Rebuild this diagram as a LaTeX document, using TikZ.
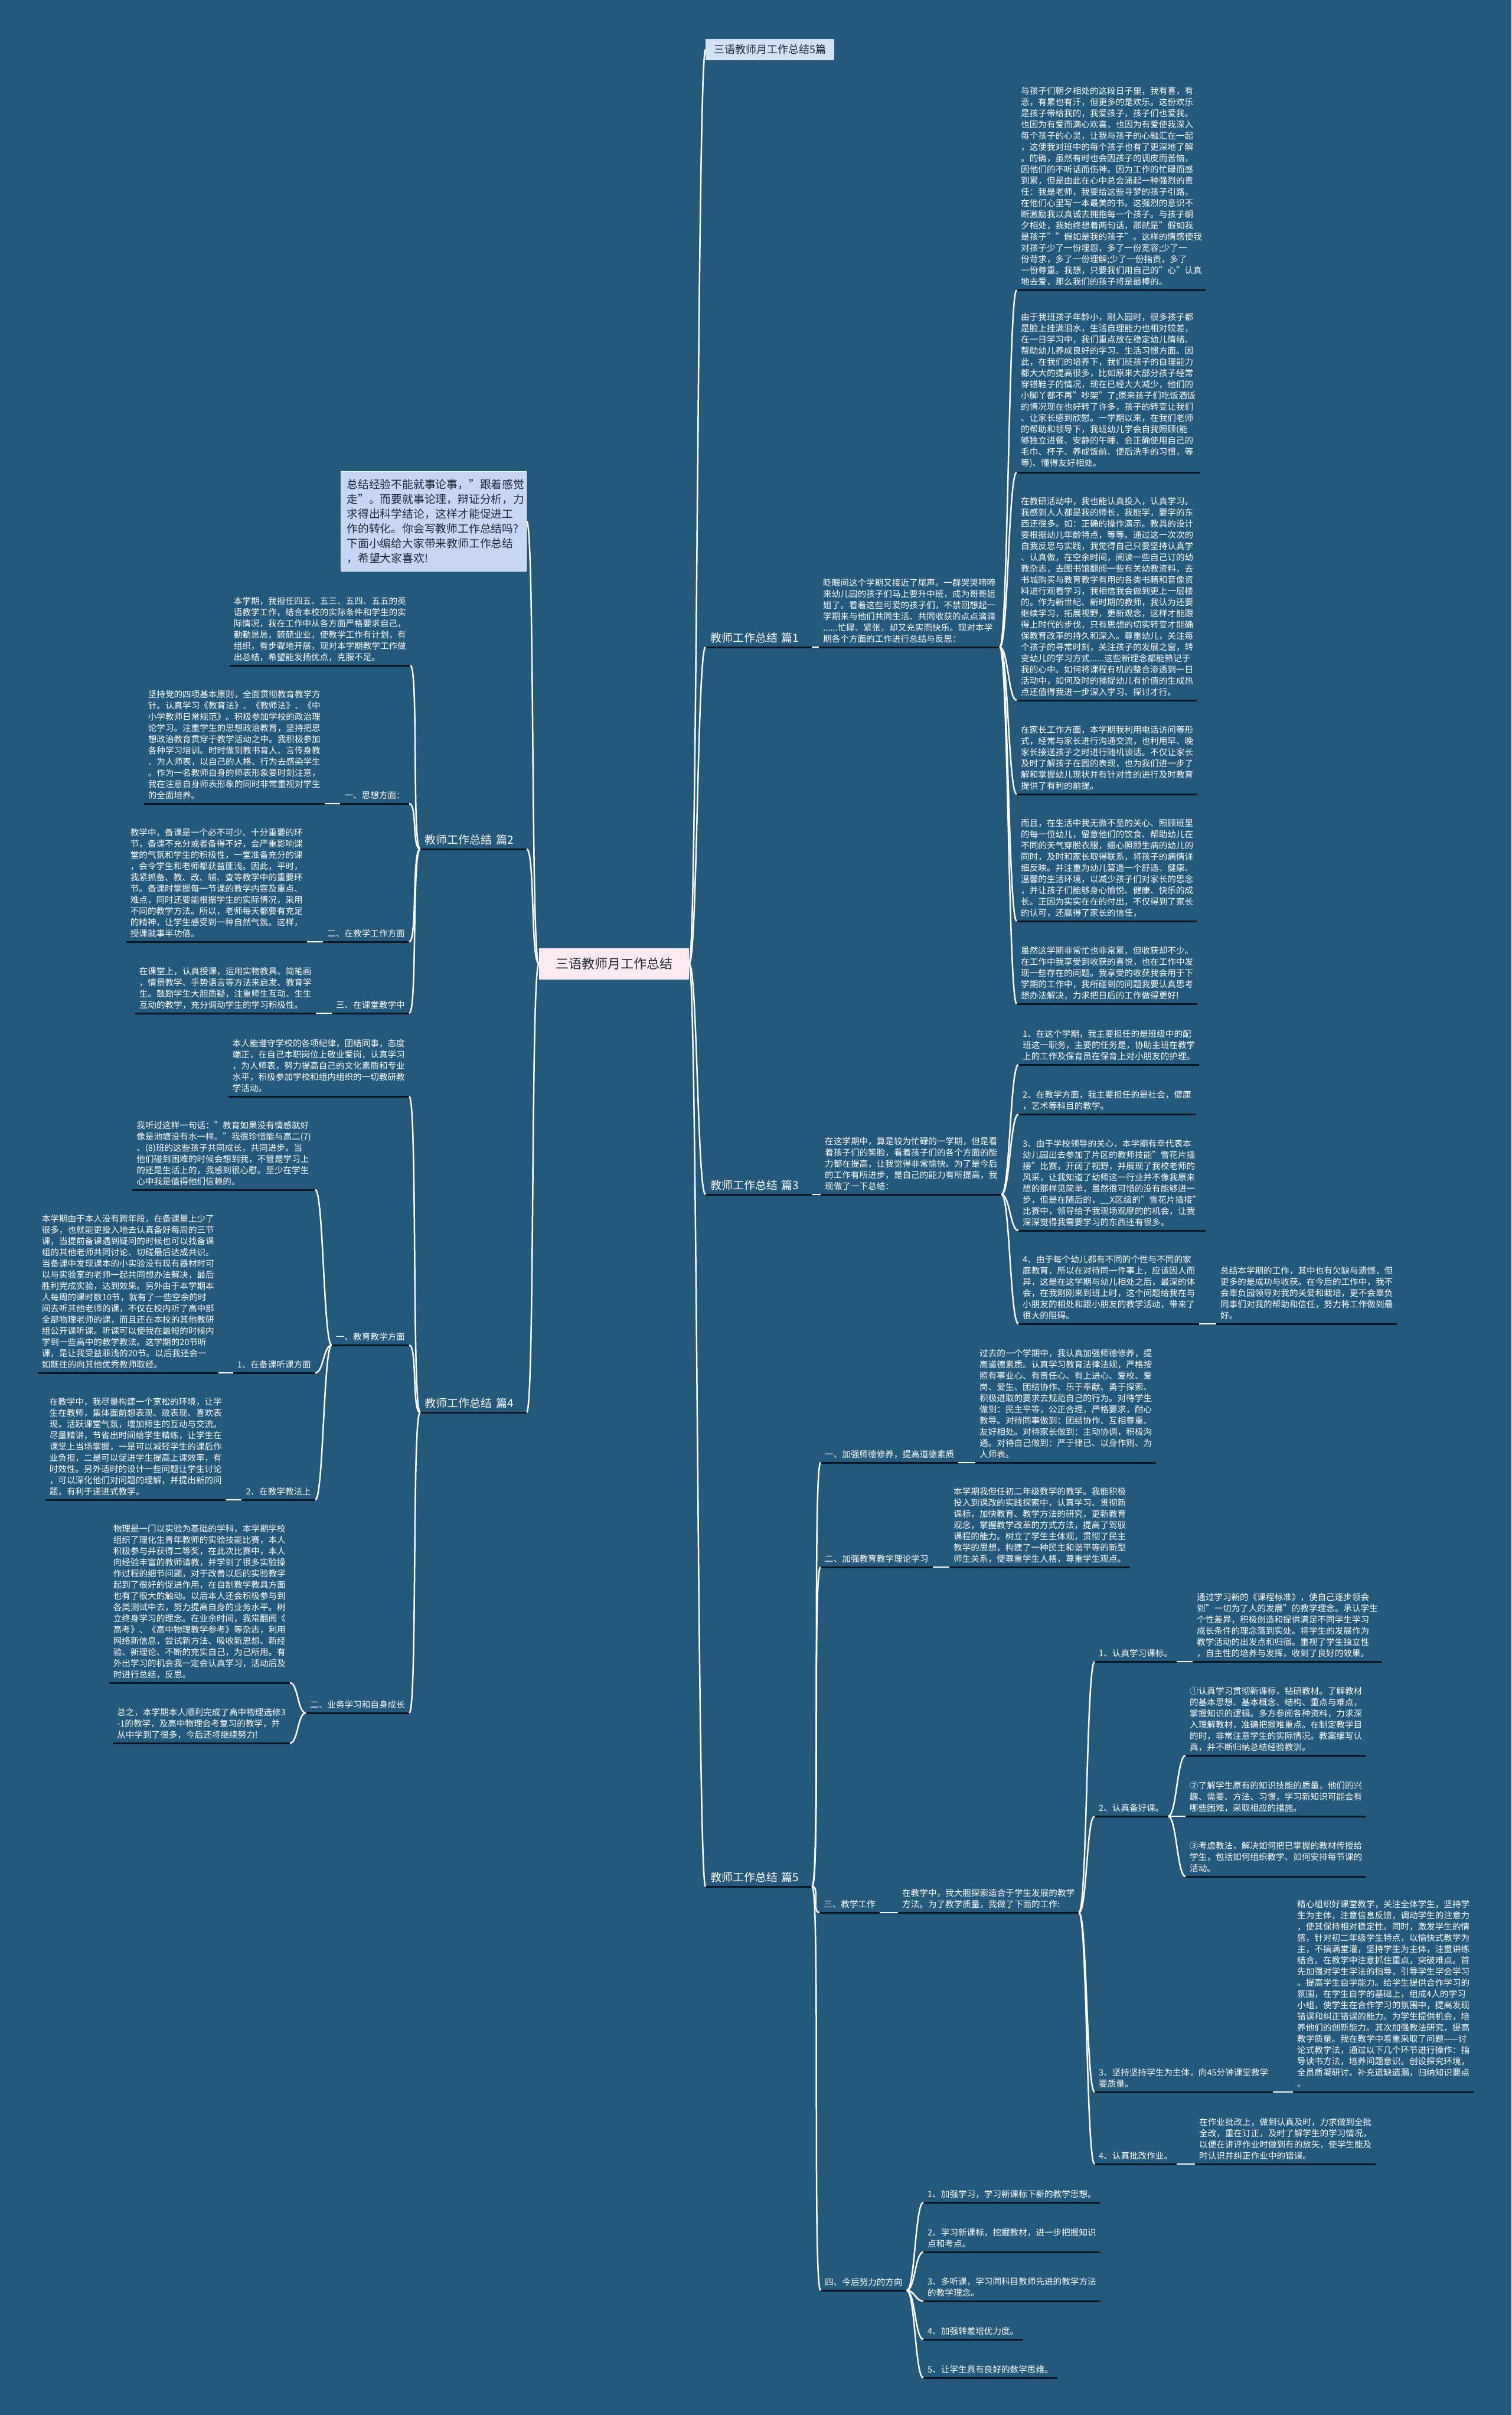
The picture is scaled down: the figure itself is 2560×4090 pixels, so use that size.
\documentclass[tikz,border=0pt]{standalone}
\usepackage{fontspec}
\setmainfont{Noto Sans CJK SC}
\usepackage{tikz}
\definecolor{bgblue}{RGB}{37,89,124}
\definecolor{lineink}{RGB}{12,22,34}
\definecolor{introfill}{RGB}{200,214,246}
\definecolor{titlefill}{RGB}{210,226,246}
\definecolor{rootfill}{RGB}{253,234,241}
\definecolor{darktext}{RGB}{30,40,55}
\begin{document}
\begin{tikzpicture}[
  x=1pt, y=-1pt,
  txt/.style={font=\fontsize{14.6}{19}\selectfont, text=white, align=left,
              inner xsep=7pt, inner ysep=7pt},
  part/.style={txt, font=\fontsize{19}{24}\selectfont, text width=164pt, inner xsep=8pt},
  rootbox/.style={fill=rootfill, text=darktext, font=\fontsize{22}{26}\selectfont,
                  minimum width=254pt, minimum height=53pt},
  titlebox/.style={fill=titlefill, text=darktext, font=\fontsize{18}{22}\selectfont,
                   inner xsep=14pt, inner ysep=10pt},
  introbox/.style={fill=introfill, draw=white!85!introfill, line width=1pt, text=darktext,
                   font=\fontsize{18.8}{25}\selectfont, align=left, text width=294pt,
                   inner xsep=10pt, inner ysep=13pt},
  uline/.style={draw=lineink, line width=3pt},
  link/.style={draw=white, line width=2.5pt},
]
  \useasboundingbox (0,0) rectangle (2560,4090);
  \fill[bgblue] (0,0) rectangle (2560,4090);

  % --- centre and top ---------------------------------------------
  \node[rootbox] (root) at (1040,1632) {三语教师月工作总结};
  \node[titlebox, anchor=west] (title) at (1195,84) {三语教师月工作总结5篇};
  \node[introbox, anchor=north west] (intro) at (577,798) {总结经验不能就事论事，"跟着感觉\\走"。而要就事论理，辩证分析，力\\求得出科学结论，这样才能促进工\\作的转化。你会写教师工作总结吗?\\下面小编给大家带来教师工作总结\\，希望大家喜欢!};

  % --- part 1 -----------------------------------------------------
  \node[part, anchor=south west] (p1) at (1195,1096) {教师工作总结 篇1};
  \node[txt, anchor=south west] (p1t) at (1387,1096) {眨眼间这个学期又接近了尾声。一群哭哭啼啼\\来幼儿园的孩子们马上要升中班，成为哥哥姐\\姐了。看着这些可爱的孩子们，不禁回想起一\\学期来与他们共同生活、共同收获的点点滴滴\\......忙碌、紧张，却又充实而快乐。现对本学\\期各个方面的工作进行总结与反思：};
  \node[txt, anchor=south west] (p1a) at (1722,491) {与孩子们朝夕相处的这段日子里，我有喜，有\\悲，有累也有汗，但更多的是欢乐。这份欢乐\\是孩子带给我的，我爱孩子，孩子们也爱我。\\也因为有爱而满心欢喜，也因为有爱使我深入\\每个孩子的心灵，让我与孩子的心融汇在一起\\，这使我对班中的每个孩子也有了更深地了解\\。的确，虽然有时也会因孩子的调皮而苦恼，\\因他们的不听话而伤神。因为工作的忙碌而感\\到累，但是由此在心中总会涌起一种强烈的责\\任：我是老师，我要给这些寻梦的孩子引路，\\在他们心里写一本最美的书。这强烈的意识不\\断激励我以真诚去拥抱每一个孩子。与孩子朝\\夕相处，我始终想着两句话，那就是"假如我\\是孩子""假如是我的孩子"。这样的情感使我\\对孩子少了一份埋怨，多了一份宽容;少了一\\份苛求，多了一份理解;少了一份指责，多了\\一份尊重。我想，只要我们用自己的"心"认真\\地去爱，那么我们的孩子将是最棒的。};
  \node[txt, anchor=south west] (p1b) at (1722,800) {由于我班孩子年龄小，刚入园时，很多孩子都\\是脸上挂满泪水，生活自理能力也相对较差，\\在一日学习中，我们重点放在稳定幼儿情绪、\\帮助幼儿养成良好的学习、生活习惯方面。因\\此，在我们的培养下，我们班孩子的自理能力\\都大大的提高很多，比如原来大部分孩子经常\\穿错鞋子的情况，现在已经大大减少，他们的\\小脚丫都不再"吵架"了;原来孩子们吃饭洒饭\\的情况现在也好转了许多，孩子的转变让我们\\、让家长感到欣慰。一学期以来，在我们老师\\的帮助和领导下，我班幼儿学会自我照顾(能\\够独立进餐、安静的午睡、会正确使用自己的\\毛巾、杯子、养成饭前、便后洗手的习惯，等\\等)、懂得友好相处。};
  \node[txt, anchor=south west] (p1c) at (1722,1186) {在教研活动中，我也能认真投入，认真学习。\\我感到人人都是我的师长，我能学，要学的东\\西还很多。如：正确的操作演示。教具的设计\\要根据幼儿年龄特点，等等。通过这一次次的\\自我反思与实践，我觉得自己只要坚持认真学\\、认真做，在空余时间，阅读一些自己订的幼\\教杂志，去图书馆翻阅一些有关幼教资料，去\\书城购买与教育教学有用的各类书籍和音像资\\料进行观看学习，我相信我会做到更上一层楼\\的。作为新世纪、新时期的教师，我认为还要\\继续学习，拓展视野，更新观念，这样才能跟\\得上时代的步伐，只有思想的切实转变才能确\\保教育改革的持久和深入。尊重幼儿，关注每\\个孩子的寻常时刻，关注孩子的发展之窗，转\\变幼儿的学习方式......这些新理念都能熟记于\\我的心中。如何将课程有机的整合渗透到一日\\活动中，如何及时的捕捉幼儿有价值的生成热\\点还值得我进一步深入学习、探讨才行。};
  \node[txt, anchor=south west] (p1d) at (1722,1345) {在家长工作方面，本学期我利用电话访问等形\\式，经常与家长进行沟通交流，也利用早、晚\\家长接送孩子之时进行随机谈话。不仅让家长\\及时了解孩子在园的表现，也为我们进一步了\\解和掌握幼儿现状并有针对性的进行及时教育\\提供了有利的前提。};
  \node[txt, anchor=south west] (p1e) at (1722,1560) {而且，在生活中我无微不至的关心、照顾班里\\的每一位幼儿，留意他们的饮食、帮助幼儿在\\不同的天气穿脱衣服，细心照顾生病的幼儿的\\同时，及时和家长取得联系，将孩子的病情详\\细反映。并注重为幼儿营造一个舒适、健康、\\温馨的生活环境，以减少孩子们对家长的思念\\，并让孩子们能够身心愉悦、健康、快乐的成\\长。正因为实实在在的付出，不仅得到了家长\\的认可，还赢得了家长的信任，};
  \node[txt, anchor=south west] (p1f) at (1722,1700) {虽然这学期非常忙也非常累，但收获却不少。\\在工作中我享受到收获的喜悦，也在工作中发\\现一些存在的问题。我享受的收获我会用于下\\学期的工作中，我所碰到的问题我要认真思考\\想办法解决，力求把日后的工作做得更好!};

  % --- part 2 -----------------------------------------------------
  \node[part, anchor=south east] (p2) at (892,1438) {教师工作总结 篇2};
  \node[txt, anchor=south east] (p2t) at (695,1127) {本学期，我担任四五、五三、五四、五五的英\\语教学工作，结合本校的实际条件和学生的实\\际情况，我在工作中从各方面严格要求自己，\\勤勤恳恳，兢兢业业，使教学工作有计划，有\\组织，有步骤地开展，现对本学期教学工作做\\出总结，希望能发扬优点，克服不足。};
  \node[txt, anchor=south east] (p2a) at (693,1361) {一、思想方面：};
  \node[txt, anchor=south east] (p2at) at (550,1361) {坚持党的四项基本原则，全面贯彻教育教学方\\针。认真学习《教育法》、《教师法》、《中\\小学教师日常规范》。积极参加学校的政治理\\论学习。注重学生的思想政治教育，坚持把思\\想政治教育贯穿于教学活动之中。我积极参加\\各种学习培训。时时做到教书育人、言传身教\\、为人师表，以自己的人格、行为去感染学生\\。作为一名教师自身的师表形象要时刻注意，\\我在注意自身师表形象的同时非常重视对学生\\的全面培养。};
  \node[txt, anchor=south east] (p2b) at (693,1595) {二、在教学工作方面};
  \node[txt, anchor=south east] (p2bt) at (520,1595) {教学中，备课是一个必不可少、十分重要的环\\节，备课不充分或者备得不好，会严重影响课\\堂的气氛和学生的积极性，一堂准备充分的课\\，会令学生和老师都获益匪浅。因此，平时，\\我紧抓备、教、改、辅、查等教学中的重要环\\节。备课时掌握每一节课的教学内容及重点、\\难点，同时还要能根据学生的实际情况，采用\\不同的教学方法。所以，老师每天都要有充足\\的精神，让学生感受到一种自然气氛。这样，\\授课就事半功倍。};
  \node[txt, anchor=south east] (p2c) at (693,1716) {三、在课堂教学中};
  \node[txt, anchor=south east] (p2ct) at (535,1716) {在课堂上，认真授课，运用实物教具、简笔画\\，情景教学、手势语言等方法来启发、教育学\\生。鼓励学生大胆质疑，注重师生互动、生生\\互动的教学，充分调动学生的学习积极性。};

  % --- part 3 -----------------------------------------------------
  \node[part, anchor=south west] (p3) at (1195,2023) {教师工作总结 篇3};
  \node[txt, anchor=south west] (p3t) at (1390,2023) {在这学期中，算是较为忙碌的一学期，但是看\\着孩子们的笑脸，看着孩子们的各个方面的能\\力都在提高，让我觉得非常愉快。为了是今后\\的工作有所进步，是自己的能力有所提高，我\\现做了一下总结：};
  \node[txt, anchor=south west] (p3a) at (1725,1803) {1、在这个学期，我主要担任的是班级中的配\\班这一职务，主要的任务是，协助主班在教学\\上的工作及保育员在保育上对小朋友的护理。};
  \node[txt, anchor=south west] (p3b) at (1725,1887) {2、在教学方面，我主要担任的是社会，健康\\，艺术等科目的教学。};
  \node[txt, anchor=south west] (p3c) at (1725,2084) {3、由于学校领导的关心，本学期有幸代表本\\幼儿园出去参加了片区的教师技能"雪花片插\\接"比赛，开阔了视野，并展现了我校老师的\\风采，让我知道了幼师这一行业并不像我原来\\想的那样见简单，虽然很可惜的没有能够进一\\步，但是在随后的，\_\_X区级的"雪花片插接"\\比赛中，领导给予我现场观摩的的机会，让我\\深深觉得我需要学习的东西还有很多。};
  \node[txt, anchor=south west] (p3d) at (1725,2242) {4、由于每个幼儿都有不同的个性与不同的家\\庭教育，所以在对待同一件事上，应该因人而\\异，这是在这学期与幼儿相处之后，最深的体\\会，在我刚刚来到班上时，这个问题给我在与\\小朋友的相处和跟小朋友的教学活动，带来了\\很大的阻碍。};
  \node[txt, anchor=south west] (p3e) at (2060,2242) {总结本学期的工作，其中也有欠缺与遗憾，但\\更多的是成功与收获。在今后的工作中，我不\\会辜负园领导对我的关爱和栽培，更不会辜负\\同事们对我的帮助和信任，努力将工作做到最\\好。};

  % --- part 4 -----------------------------------------------------
  \node[part, anchor=south east] (p4) at (892,2392) {教师工作总结 篇4};
  \node[txt, anchor=south east] (p4t) at (693,1857) {本人能遵守学校的各项纪律，团结同事，态度\\端正，在自己本职岗位上敬业爱岗，认真学习\\，为人师表，努力提高自己的文化素质和专业\\水平，积极参加学校和组内组织的一切教研教\\学活动。};
  \node[txt, anchor=south east] (p4a) at (693,2278) {一、教育教学方面};
  \node[txt, anchor=south east] (p4a0) at (534,2015) {我听过这样一句话："教育如果没有情感就好\\像是池塘没有水一样。"我很珍惜能与高二(7)\\、(8)班的这些孩子共同成长，共同进步。当\\他们碰到困难的时候会想到我，不管是学习上\\的还是生活上的，我感到很心慰。至少在学生\\心中我是值得他们信赖的。};
  \node[txt, anchor=south east] (p4a1) at (534,2325) {1、在备课听课方面};
  \node[txt, anchor=south east] (p4a1t) at (370,2325) {本学期由于本人没有跨年段，在备课量上少了\\很多，也就能更投入地去认真备好每周的三节\\课，当提前备课遇到疑问的时候也可以找备课\\组的其他老师共同讨论、切磋最后达成共识。\\当备课中发现课本的小实验没有现有器材时可\\以与实验室的老师一起共同想办法解决，最后\\胜利完成实验，达到效果。另外由于本学期本\\人每周的课时数10节，就有了一些空余的时\\间去听其他老师的课，不仅在校内听了高中部\\全部物理老师的课，而且还在本校的其他教研\\组公开课听课。听课可以使我在最短的时候内\\学到一些高中的教学教法。这学期的20节听\\课，是让我受益菲浅的20节。以后我还会一\\如既往的向其他优秀教师取经。};
  \node[txt, anchor=south east] (p4a2) at (534,2540) {2、在教学教法上};
  \node[txt, anchor=south east] (p4a2t) at (383,2540) {在教学中，我尽量构建一个宽松的环境，让学\\生在教师，集体面前想表现、敢表现、喜欢表\\现，活跃课堂气氛，增加师生的互动与交流。\\尽量精讲，节省出时间给学生精练，让学生在\\课堂上当场掌握，一是可以减轻学生的课后作\\业负担，二是可以促进学生提高上课效率，有\\时效性。另外适时的设计一些问题让学生讨论\\，可以深化他们对问题的理解，并提出新的问\\题，有利于递进式教学。};
  \node[txt, anchor=south east] (p4b) at (693,2901) {二、业务学习和自身成长};
  \node[txt, anchor=south east] (p4b1) at (491,2850) {物理是一门以实验为基础的学科，本学期学校\\组织了理化生青年教师的实验技能比赛，本人\\积极参与并获得二等奖，在此次比赛中，本人\\向经验丰富的教师请教，并学到了很多实验操\\作过程的细节问题，对于改善以后的实验教学\\起到了很好的促进作用，在自制教学教具方面\\也有了很大的触动。以后本人还会积极参与到\\各类测试中去，努力提高自身的业务水平。树\\立终身学习的理念。在业余时间，我常翻阅《\\高考》、《高中物理教学参考》等杂志，利用\\网络新信息，尝试新方法、吸收新思想、新经\\验、新理论、不断的充实自己，为己所用。有\\外出学习的机会我一定会认真学习，活动后及\\时进行总结，反思。};
  \node[txt, anchor=south east] (p4b2) at (491,2952) {总之，本学期本人顺利完成了高中物理选修3\\-1的教学，及高中物理会考复习的教学，并\\从中学到了很多，今后还将继续努力!};

  % --- part 5 -----------------------------------------------------
  \node[part, anchor=south west] (p5) at (1195,3195) {教师工作总结 篇5};
  \node[txt, anchor=south west] (p5a) at (1390,2477) {一、加强师德修养，提高道德素质};
  \node[txt, anchor=south west] (p5at) at (1652,2477) {过去的一个学期中，我认真加强师德修养，提\\高道德素质。认真学习教育法律法规，严格按\\照有事业心、有责任心、有上进心、爱校、爱\\岗、爱生、团结协作、乐于奉献、勇于探索、\\积极进取的要求去规范自己的行为。对待学生\\做到：民主平等，公正合理，严格要求，耐心\\教导。对待同事做到：团结协作、互相尊重、\\友好相处。对待家长做到：主动协调，积极沟\\通。对待自己做到：严于律已、以身作则、为\\人师表。};
  \node[txt, anchor=south west] (p5b) at (1390,2654) {二、加强教育教学理论学习};
  \node[txt, anchor=south west] (p5bt) at (1608,2654) {本学期我但任初二年级数学的教学。我能积极\\投入到课改的实践探索中，认真学习、贯彻新\\课标，加快教育、教学方法的研究，更新教育\\观念，掌握教学改革的方式方法，提高了驾驭\\课程的能力。树立了学生主体观，贯彻了民主\\教学的思想，构建了一种民主和谐平等的新型\\师生关系，使尊重学生人格，尊重学生观点。};
  \node[txt, anchor=south west] (p5c) at (1388,3239) {三、教学工作};
  \node[txt, anchor=south west] (p5ct) at (1521,3239) {在教学中，我大胆探索适合于学生发展的教学\\方法。为了教学质量，我做了下面的工作:};
  \node[txt, anchor=south west] (p5c1) at (1854,2814) {1、认真学习课标。};
  \node[txt, anchor=south west] (p5c1t) at (2020,2814) {通过学习新的《课程标准》，使自己逐步领会\\到"一切为了人的发展"的教学理念。承认学生\\个性差异，积极创造和提供满足不同学生学习\\成长条件的理念落到实处。将学生的发展作为\\教学活动的出发点和归宿。重视了学生独立性\\，自主性的培养与发挥，收到了良好的效果。};
  \node[txt, anchor=south west] (p5c2) at (1854,3076) {2、认真备好课。};
  \node[txt, anchor=south west] (p5c2a) at (2008,2973) {①认真学习贯彻新课标，钻研教材。了解教材\\的基本思想、基本概念、结构、重点与难点，\\掌握知识的逻辑。多方参阅各种资料，力求深\\入理解教材，准确把握难重点。在制定教学目\\的时，非常注意学生的实际情况。教案编写认\\真，并不断归纳总结经验教训。};
  \node[txt, anchor=south west] (p5c2b) at (2008,3076) {②了解学生原有的知识技能的质量，他们的兴\\趣、需要、方法、习惯，学习新知识可能会有\\哪些困难，采取相应的措施。};
  \node[txt, anchor=south west] (p5c2c) at (2008,3178) {③考虑教法，解决如何把已掌握的教材传授给\\学生，包括如何组织教学、如何安排每节课的\\活动。};
  \node[txt, anchor=south west] (p5c3) at (1854,3543) {3、坚持坚持学生为主体，向45分钟课堂教学\\要质量。};
  \node[txt, anchor=south west] (p5c3t) at (2190,3543) {精心组织好课堂教学，关注全体学生，坚持学\\生为主体，注意信息反馈，调动学生的注意力\\，使其保持相对稳定性。同时，激发学生的情\\感，针对初二年级学生特点，以愉快式教学为\\主，不搞满堂灌，坚持学生为主体，注重讲练\\结合。在教学中注意抓住重点，突破难点。首\\先加强对学生学法的指导，引导学生学会学习\\。提高学生自学能力。给学生提供合作学习的\\氛围，在学生自学的基础上，组成4人的学习\\小组，使学生在合作学习的氛围中，提高发现\\错误和纠正错误的能力。为学生提供机会，培\\养他们的创新能力。其次加强教法研究，提高\\教学质量。我在教学中着重采取了问题——讨\\论式教学法，通过以下几个环节进行操作：指\\导读书方法，培养问题意识。创设探究环境，\\全员质凝研讨。补充遗缺遗漏，归纳知识要点\\。};
  \node[txt, anchor=south west] (p5c4) at (1854,3665) {4、认真批改作业。};
  \node[txt, anchor=south west] (p5c4t) at (2024,3665) {在作业批改上，做到认真及时，力求做到全批\\全改，重在订正，及时了解学生的学习情况，\\以便在讲评作业时做到有的放矢，使学生能及\\时认识并纠正作业中的错误。};
  \node[txt, anchor=south west] (p5d) at (1390,3879) {四、今后努力的方向};
  \node[txt, anchor=south west] (p5d1) at (1564,3730) {1、加强学习，学习新课标下新的教学思想。};
  \node[txt, anchor=south west] (p5d2) at (1564,3814) {2、学习新课标，挖掘教材，进一步把握知识\\点和考点。};
  \node[txt, anchor=south west] (p5d3) at (1564,3897) {3、多听课，学习同科目教师先进的教学方法\\的教学理念。};
  \node[txt, anchor=south west] (p5d4) at (1564,3962) {4、加强转差培优力度。};
  \node[txt, anchor=south west] (p5d5) at (1564,4027) {5、让学生具有良好的数学思维。};

  % --- underlines -------------------------------------------------
  \foreach \n in {p1,p1t,p1a,p1b,p1c,p1d,p1e,p1f,
                  p2,p2t,p2a,p2at,p2b,p2bt,p2c,p2ct,
                  p3,p3t,p3a,p3b,p3c,p3d,p3e,
                  p4,p4t,p4a,p4a0,p4a1,p4a1t,p4a2,p4a2t,p4b,p4b1,p4b2,
                  p5,p5a,p5at,p5b,p5bt,p5c,p5ct,p5c1,p5c1t,p5c2,p5c2a,p5c2b,p5c2c,
                  p5c3,p5c3t,p5c4,p5c4t,p5d,p5d1,p5d2,p5d3,p5d4,p5d5}
    \draw[uline] (\n.south west) -- (\n.south east);

  % --- connectors -------------------------------------------------
  \draw[link] (root.east) .. controls +(14,0) and +(-14,0) .. (title.west);
  \foreach \b in {p1,p3,p5}
    \draw[link] (root.east) .. controls +(14,0) and +(-14,0) .. (\b.south west);
  \draw[link] (root.west) .. controls +(-14,0) and +(14,0) .. (intro.east);
  \foreach \b in {p2,p4}
    \draw[link] (root.west) .. controls +(-14,0) and +(14,0) .. (\b.south east);

  % right-hand branches
  \foreach \a/\b in {p1/p1t, p1t/p1a, p1t/p1b, p1t/p1c, p1t/p1d, p1t/p1e, p1t/p1f,
                     p3/p3t, p3t/p3a, p3t/p3b, p3t/p3c, p3t/p3d, p3d/p3e,
                     p5/p5a, p5/p5b, p5/p5c, p5/p5d, p5a/p5at, p5b/p5bt, p5c/p5ct,
                     p5ct/p5c1, p5ct/p5c2, p5ct/p5c3, p5ct/p5c4,
                     p5c1/p5c1t, p5c2/p5c2a, p5c2/p5c2b, p5c2/p5c2c, p5c3/p5c3t, p5c4/p5c4t,
                     p5d/p5d1, p5d/p5d2, p5d/p5d3, p5d/p5d4, p5d/p5d5}
    \draw[link] (\a.south east) .. controls +(14,0) and +(-14,0) .. (\b.south west);

  % left-hand branches
  \foreach \a/\b in {p2/p2t, p2/p2a, p2/p2b, p2/p2c, p2a/p2at, p2b/p2bt, p2c/p2ct,
                     p4/p4t, p4/p4a, p4/p4b, p4a/p4a0, p4a/p4a1, p4a/p4a2,
                     p4a1/p4a1t, p4a2/p4a2t, p4b/p4b1, p4b/p4b2}
    \draw[link] (\a.south west) .. controls +(-14,0) and +(14,0) .. (\b.south east);
\end{tikzpicture}
\end{document}
